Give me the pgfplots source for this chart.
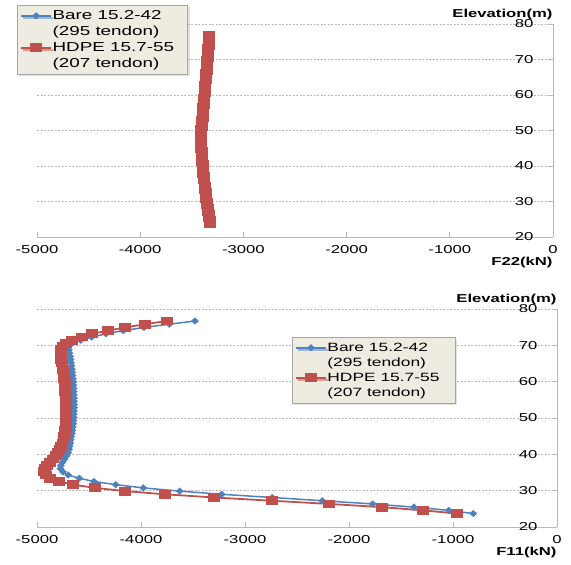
\documentclass[border=0pt]{standalone}
\usepackage{fontspec}
\setmainfont{Liberation Sans}
\usepackage{graphicx}
\usepackage{pgfplots}
\usepackage{pgfplotstable}
\pgfplotsset{compat=1.18}
\usetikzlibrary{shadows}

\definecolor{xlblue}{HTML}{4F81BD}
\definecolor{xlred}{HTML}{C0504D}
\definecolor{legfill}{HTML}{EEECE1}

\newcommand{\sx}[1]{\scalebox{1.45}[1]{#1}}

\pgfplotstableread{
elev bare22 hdpe22 bare11 hdpe11
23.70 -3308 -3323 -805 -959
24.58 -3313 -3328 -1040 -1286
25.47 -3317 -3332 -1375 -1686
26.35 -3322 -3337 -1772 -2189
27.23 -3326 -3341 -2257 -2743
28.12 -3330 -3345 -2738 -3295
29.00 -3335 -3350 -3224 -3769
29.88 -3339 -3354 -3628 -4154
30.77 -3343 -3358 -3978 -4442
31.65 -3347 -3362 -4243 -4657
32.53 -3351 -3366 -4452 -4786
33.42 -3355 -3370 -4593 -4875
34.30 -3358 -3373 -4700 -4915
35.18 -3362 -3377 -4750 -4930
36.07 -3365 -3380 -4775 -4920
36.95 -3369 -3384 -4770 -4900
37.83 -3372 -3387 -4755 -4875
38.72 -3375 -3390 -4735 -4845
39.60 -3378 -3393 -4715 -4815
40.48 -3381 -3396 -4700 -4795
41.37 -3383 -3398 -4692 -4778
42.25 -3386 -3401 -4686 -4765
43.13 -3388 -3403 -4680 -4755
44.02 -3390 -3405 -4675 -4745
44.90 -3392 -3407 -4670 -4738
45.78 -3393 -3408 -4665 -4733
46.67 -3394 -3409 -4660 -4729
47.55 -3395 -3410 -4656 -4726
48.43 -3395 -3410 -4652 -4724
49.32 -3394 -3409 -4650 -4722
50.20 -3392 -3407 -4648 -4721
51.08 -3390 -3405 -4646 -4720
51.97 -3387 -3402 -4645 -4720
52.85 -3384 -3399 -4644 -4720
53.73 -3381 -3396 -4644 -4721
54.62 -3378 -3393 -4644 -4722
55.50 -3375 -3390 -4645 -4723
56.38 -3373 -3388 -4646 -4725
57.27 -3370 -3385 -4647 -4727
58.15 -3367 -3382 -4648 -4729
59.03 -3365 -3380 -4650 -4731
59.92 -3362 -3377 -4652 -4734
60.80 -3359 -3374 -4655 -4737
61.68 -3357 -3372 -4658 -4741
62.57 -3354 -3369 -4661 -4745
63.45 -3352 -3367 -4665 -4750
64.33 -3349 -3364 -4669 -4755
65.22 -3347 -3362 -4673 -4760
66.10 -3344 -3359 -4677 -4765
66.98 -3342 -3357 -4682 -4770
67.87 -3339 -3354 -4688 -4772
68.75 -3337 -3352 -4694 -4770
69.63 -3334 -3349 -4700 -4755
70.52 -3332 -3347 -4665 -4720
71.40 -3329 -3344 -4580 -4666
72.28 -3327 -3342 -4474 -4570
73.17 -3324 -3339 -4337 -4474
74.05 -3322 -3337 -4170 -4320
74.93 -3319 -3334 -3971 -4154
75.82 -3317 -3332 -3728 -3962
76.70 -3314 -3329 -3481 -3753
}\data

\pgfplotsset{
  base/.style={
    scale only axis,
    xmin=-5000, xmax=0, ymin=20, ymax=80,
    xtick={-5000,-4000,-3000,-2000,-1000,0},
    ytick={20,30,40,50,60,70,80},
    axis x line*=bottom, axis y line*=right,
    axis line style={draw=gray!55, line width=0.9pt, -},
    tick style={draw=gray!55, line width=0.8pt},
    tick align=inside,
    major tick length=5bp,
    ymajorgrids,
    grid style={draw=gray!55, dash pattern=on 2bp off 1.5bp, line width=0.5pt},
    scaled x ticks=false, scaled y ticks=false,
    tick label style={font=\fontsize{11.5bp}{14bp}\selectfont},
    xticklabel={\sx{\pgfmathprintnumber[assume math mode=true,1000 sep={}]{\tick}}},
    yticklabel={\sx{\pgfmathprintnumber[assume math mode=true]{\tick}}},
    xticklabel style={yshift=-5bp},
    yticklabel style={anchor=east, xshift=-16bp},
    every axis x label/.style={at={(rel axis cs:1,0)}, anchor=north east, yshift=-17bp, xshift=3bp,
      font=\fontsize{11.5bp}{14bp}\selectfont\bfseries},
    every axis y label/.style={at={(rel axis cs:1,1)}, anchor=south east, yshift=1bp, xshift=3bp,
      font=\fontsize{11.5bp}{14bp}\selectfont\bfseries},
    ylabel={\sx{Elevation(m)}},
    legend cell align=left,
    legend style={draw=gray!70, fill=legfill, line width=0.6pt,
      drop shadow={shadow xshift=2bp, shadow yshift=-2bp, fill=gray!45},
      inner xsep=3bp, inner ysep=4bp, row sep=3bp,
      nodes={inner sep=0.5bp, text height=9.5bp, text depth=2.5bp}},
    legend image code/.code={\draw[mark repeat=2,mark phase=2,#1] plot coordinates {(0bp,0bp) (15bp,0bp) (30bp,0bp)};},
  },
  bare/.style={color=xlblue, line width=1.5pt, mark=diamond*, mark size=2.6bp,
    mark options={xscale=1.45, solid}},
  hdpe/.style={color=xlred, line width=1.8pt, mark=square*, mark size=3.5bp,
    mark options={xscale=1.45, solid}},
}

\begin{document}
\begin{tikzpicture}
\useasboundingbox (-37bp,-328bp) rectangle (534bp,237bp);
\begin{axis}[base, width=516bp, height=213bp, at={(0,0)}, anchor=south west,
  xlabel={\sx{F22(kN)}},
  legend style={at={(-0.0388,1.089)}, anchor=north west, font=\fontsize{13bp}{15.5bp}\selectfont}]
\addplot[bare] table[x=bare22, y=elev] {\data};
\addlegendentry{\sx{Bare 15.2-42}\hspace*{10bp}}
\addlegendimage{empty legend}
\addlegendentry{\sx{(295 tendon)}}
\addplot[hdpe] table[x=hdpe22, y=elev] {\data};
\addlegendentry{\sx{HDPE 15.7-55}\hspace*{10bp}}
\addlegendimage{empty legend}
\addlegendentry{\sx{(207 tendon)}}
\end{axis}
\begin{axis}[base, width=520bp, height=218bp, at={(0,-290bp)}, anchor=south west,
  xlabel={\sx{F11(kN)}},
  legend style={at={(0.490,0.8716)}, anchor=north west, font=\fontsize{12bp}{15bp}\selectfont,
    row sep=2bp}]
\addplot[bare] table[x=bare11, y=elev] {\data};
\addlegendentry{\sx{Bare 15.2-42}\hspace*{12bp}}
\addlegendimage{empty legend}
\addlegendentry{\sx{(295 tendon)}}
\addplot[hdpe] table[x=hdpe11, y=elev] {\data};
\addlegendentry{\sx{HDPE 15.7-55}\hspace*{12bp}}
\addlegendimage{empty legend}
\addlegendentry{\sx{(207 tendon)}}
\end{axis}
\end{tikzpicture}
\end{document}
